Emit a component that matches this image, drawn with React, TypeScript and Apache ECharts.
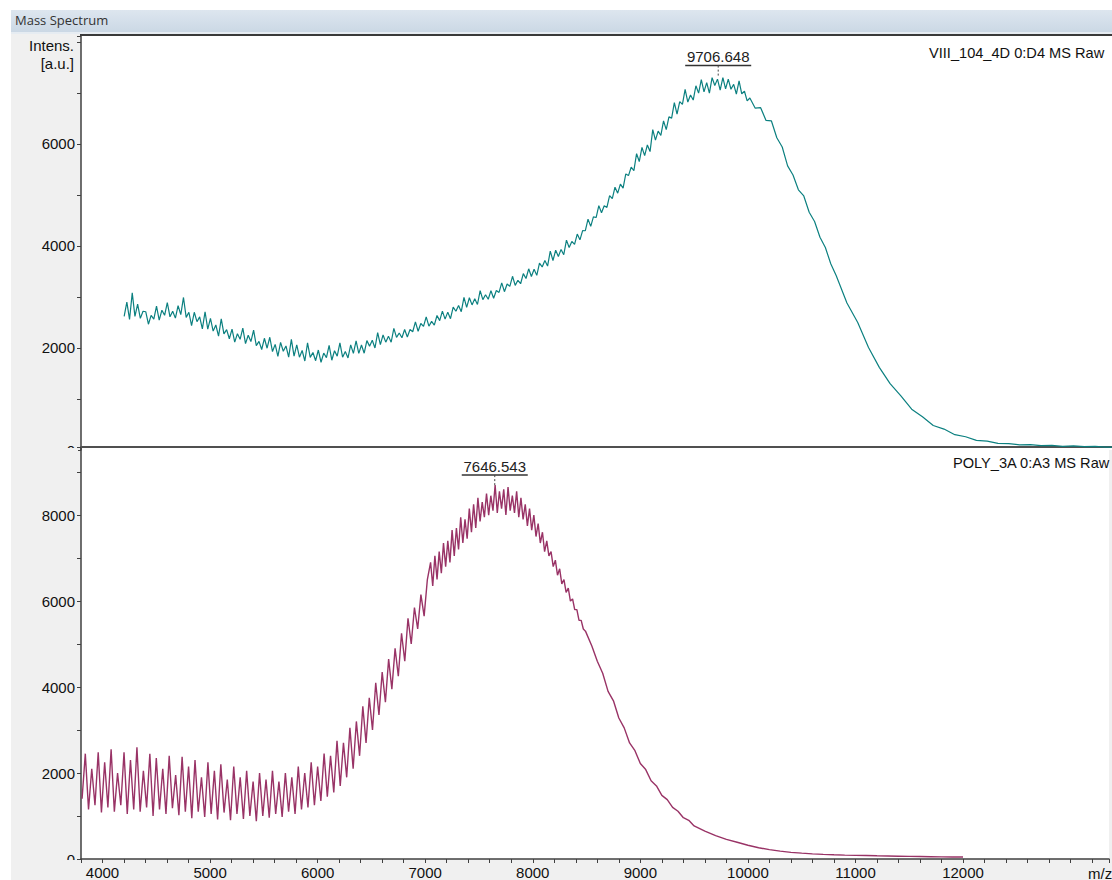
import { useEffect, useRef } from 'react';
import * as echarts from 'echarts';

// ---------- labels ----------
const WINDOW_TITLE = 'Mass Spectrum';
const Y_TITLE_1 = 'Intens.';
const Y_TITLE_2 = '[a.u.]';
const X_TITLE = 'm/z';
const TOP_NAME = 'VIII_104_4D 0:D4 MS Raw';
const BOT_NAME = 'POLY_3A 0:A3 MS Raw';
const TOP_PEAK_MZ = 9706.648;
const TOP_PEAK_TOP = 7300;
const BOT_PEAK_MZ = 7646.543;
const BOT_PEAK_TOP = 8650;

// ---------- axes ----------
const X_MIN = 3800;
const X_MAX = 13357;
const X_TICK = 200;
const X_LABEL_EVERY = 1000;
const X_LABEL_LAST = 12000;
const TOP_Y_MAX = 8115;
const BOT_Y_MAX = 9583;
const Y_TICK = 1000;
const Y_LABEL_EVERY = 2000;

// ---------- top spectrum (VIII_104_4D), intensities ----------
const TOP_A_START = 4200;
const TOP_A_STEP = 25;
const TOP_A = [
  2620, 2900, 2560, 3080, 2620, 2860, 2580, 2720,
  2710, 2465, 2640, 2565, 2820, 2545, 2740, 2640,
  2890, 2610, 2720, 2585, 2830, 2655, 2990, 2600,
  2700, 2440, 2700, 2515, 2610, 2375, 2710, 2370,
  2580, 2330, 2450, 2230, 2570, 2275, 2360, 2180,
  2370, 2115, 2280, 2170, 2390, 2085, 2250, 2125,
  2350, 2045, 2130, 1970, 2190, 1995, 2210, 1930,
  2070, 1835, 2110, 1935, 2040, 1820, 2170, 1840,
  2060, 1820, 1950, 1745, 2100, 1815, 1910, 1750,
  1960, 1720, 1900, 1810, 2050, 1760, 1945, 1840,
  2100, 1820, 1930, 1805, 2060, 1895, 2140, 1895,
  2058, 1897, 2144, 2036, 2152, 1999, 2302, 2066,
  2255, 2114, 2232, 2112, 2384, 2208, 2293, 2201,
  2363, 2215, 2361, 2318, 2511, 2328, 2479, 2422,
  2610, 2427, 2522, 2449, 2637, 2536, 2722, 2565,
  2702, 2573, 2801, 2719, 2833, 2711, 2993, 2794,
  2985, 2844, 2967, 2852, 3124, 2948, 3043, 2956,
  3123, 2975, 3126, 3088, 3276, 3103, 3254, 3207,
  3405, 3227, 3327, 3259, 3457, 3361, 3552, 3400,
  3542, 3423, 3661, 3589, 3713, 3606, 3898, 3714,
  3915, 3794, 3932, 3827, 4114, 3968, 4088, 4031,
  4233, 4120, 4301, 4298, 4526, 4383, 4569, 4557,
  4790, 4652, 4787, 4754, 4987, 4926, 5152, 5035,
  5212, 5133, 5411, 5379, 5543, 5476, 5808, 5654,
  5930, 5770, 5980, 5850, 6280, 6075, 6250, 6165,
  6450, 6280, 6530, 6505, 6810, 6585, 6830, 6775,
  7070, 6820, 6960, 6860, 7140, 6995, 7260, 7020,
  7200, 6995, 7300, 7145, 7270, 7055, 7300, 7080,
  7270, 7071, 7168, 6978, 7236, 6982, 7032, 6844,
];
const TOP_M_START = 10000;
const TOP_M_STEP = 50;
const TOP_M = [
  6900, 6700, 6710, 6460, 6450, 6120, 5940, 5570, 5390, 5100, 4980, 4660, 4480, 4170, 3970, 3650,
  3420,
];
const TOP_B_START = 10900;
const TOP_B_STEP = 100;
const TOP_B = [
  2880, 2500, 2010, 1620, 1300, 1060, 800, 650, 480, 410, 300, 260, 190, 175, 130, 125, 100, 105,
  85, 90, 70, 80, 65, 70, 55, 60,
];

// ---------- bottom spectrum (POLY_3A), intensities ----------
const BOT_A_START = 3810;
const BOT_A_STEP = 30;
const BOT_A = [
  1400, 2450, 1150, 2100, 1250, 2480, 1080, 2250, 1200, 2550, 1100, 2000, 1250, 2480, 1050, 2300,
  1150, 2600, 1100, 2050, 1200, 2450, 1000, 2350, 1150, 2100, 1050, 2400, 1180, 1950, 1020, 2380,
  1100, 2150, 950, 2300, 1100, 1900, 980, 2250, 1050, 2050, 920, 2200, 1080, 1850, 900, 2150,
  1050, 1900, 930, 2050, 1000, 1800, 880, 2000, 1000, 1850, 960, 2050, 1050, 1800, 980, 2000,
  1100, 1900, 1050, 2150, 1150, 2000, 1200, 2250, 1250, 2150, 1350, 2450, 1450, 2400, 1550, 2750,
  1700, 2700, 1900, 3050, 2100, 3200, 2400, 3550, 2700, 3750, 3000, 4100, 3350, 4350, 3650, 4650,
  3950, 4900, 4250, 5250, 4600, 5600, 5000, 5850, 5350, 6150, 5650, 6500,
];
const BOT_B_START = 7050;
const BOT_B_STEP = 20;
const BOT_B = [
  6900, 6350, 7050, 6500, 7150, 6650, 7350, 6800, 7400, 6900, 7650, 7050, 7700, 7200, 7950, 7350,
  7900, 7450, 8150, 7600, 8250, 7700, 8400, 7850, 8300, 7950, 8500, 8000, 8450, 8100, 8700, 8050,
  8550, 8150, 8600, 8000, 8650, 8100, 8450, 8050, 8550, 7950, 8400, 7900, 8250, 7750, 8150, 7650,
  8000, 7500, 7800, 7350, 7600, 7150, 7400, 7050, 7150, 6800, 6950, 6600, 6750, 6400, 6500, 6200,
  6300, 6000, 6050, 5800, 5800, 5550, 5550, 5350, 5300,
];
const BOT_C_START = 8550;
const BOT_C_STEP = 50;
const BOT_C = [
  4950, 4600, 4320, 3900, 3680, 3280, 3050, 2700, 2520, 2220, 2080, 1820, 1700, 1480, 1380, 1200,
  1110, 960, 900, 770,
];
const BOT_D_START = 9600;
const BOT_D_STEP = 100;
const BOT_D = [
  650, 545, 455, 390, 320, 262, 218, 182, 155, 136, 120, 108, 98, 90, 85, 80, 74, 70, 65, 60, 57,
  54, 50, 48, 46,
];

const TOP_COLOR = '#0c8080';
const BOT_COLOR = '#993366';
const FONT = '"Liberation Sans", Arial, sans-serif';

function seg(start: number, step: number, vals: number[]) {
  return vals.map((v, i) => [start + i * step, v]);
}

const topData = [
  ...seg(TOP_A_START, TOP_A_STEP, TOP_A),
  ...seg(TOP_M_START, TOP_M_STEP, TOP_M),
  ...seg(TOP_B_START, TOP_B_STEP, TOP_B),
];
const botData = [
  ...seg(BOT_A_START, BOT_A_STEP, BOT_A),
  ...seg(BOT_B_START, BOT_B_STEP, BOT_B),
  ...seg(BOT_C_START, BOT_C_STEP, BOT_C),
  ...seg(BOT_D_START, BOT_D_STEP, BOT_D),
];

function yAxis(gridIndex: number, max: number, hideTop: boolean) {
  return {
    gridIndex,
    type: 'value',
    min: 0,
    max,
    interval: Y_TICK,
    axisLine: { show: true, lineStyle: { color: '#404040', width: 1.5 } },
    axisTick: { show: true, inside: false, length: 4, lineStyle: { color: '#404040' } },
    axisLabel: {
      color: '#111',
      fontSize: 15,
      fontFamily: FONT,
      margin: 6,
      formatter: (v: number) =>
        v % Y_LABEL_EVERY === 0 && !(hideTop && v >= 8000) ? String(v) : '',
    },
    splitLine: { show: false },
  };
}

export default function App() {
  const ref = useRef<HTMLDivElement>(null);
  useEffect(() => {
    const chart = echarts.init(ref.current!, null, { renderer: 'svg' });
    chart.setOption({
      animation: false,
      grid: [
        { left: 81, top: 36, width: 1031, height: 414, show: true, backgroundColor: '#fff', borderWidth: 0 },
        { left: 81, top: 447, width: 1031, height: 412, show: true, backgroundColor: '#fff', borderWidth: 0 },
      ],
      xAxis: [
        {
          gridIndex: 0, type: 'value', min: X_MIN, max: X_MAX, interval: X_TICK,
          axisLine: { show: false }, axisTick: { show: false }, axisLabel: { show: false },
          splitLine: { show: false },
        },
        {
          gridIndex: 1, type: 'value', min: X_MIN, max: X_MAX, interval: X_TICK,
          axisLine: { show: true, onZero: false, lineStyle: { color: '#404040', width: 1.5 } },
          axisTick: { show: true, inside: false, length: 4, lineStyle: { color: '#404040' } },
          axisLabel: {
            color: '#111', fontSize: 15, fontFamily: FONT, margin: 6,
            formatter: (v: number) =>
              v % X_LABEL_EVERY === 0 && v <= X_LABEL_LAST ? String(v) : '',
          },
          splitLine: { show: false },
        },
      ],
      yAxis: [yAxis(0, TOP_Y_MAX, true), yAxis(1, BOT_Y_MAX, false)],
      series: [
        {
          type: 'line', xAxisIndex: 0, yAxisIndex: 0, data: topData, symbol: 'none',
          lineStyle: { color: TOP_COLOR, width: 1.2 }, z: 3,
        },
        {
          type: 'line', xAxisIndex: 1, yAxisIndex: 1, data: botData, symbol: 'none',
          lineStyle: { color: BOT_COLOR, width: 1.4 }, z: 3,
        },
      ],
    });

    const pt = chart.convertToPixel({ xAxisIndex: 0, yAxisIndex: 0 }, [TOP_PEAK_MZ, TOP_PEAK_TOP]) as number[];
    const pb = chart.convertToPixel({ xAxisIndex: 1, yAxisIndex: 1 }, [BOT_PEAK_MZ, BOT_PEAK_TOP]) as number[];

    const peakMarks = (p: number[], label: string) => {
      const lineY = p[1] - 12;
      return [
        {
          type: 'text', z: 50, x: p[0], y: lineY - 9,
          style: { text: label, fill: '#222', font: `15px ${FONT}`, align: 'center', verticalAlign: 'middle' },
        },
        {
          type: 'line', z: 50,
          shape: { x1: p[0] - 33, y1: lineY, x2: p[0] + 33, y2: lineY },
          style: { stroke: '#333', lineWidth: 1.5 },
        },
        {
          type: 'line', z: 50,
          shape: { x1: p[0], y1: lineY, x2: p[0], y2: lineY + 10 },
          style: { stroke: '#444', lineWidth: 1, lineDash: [2, 2] },
        },
      ];
    };

    chart.setOption({
      graphic: [
        {
          type: 'text', z: 50, x: 15, y: 20,
          style: { text: WINDOW_TITLE, fill: '#333', font: '13px "Open Sans", "Noto Sans", sans-serif', verticalAlign: 'middle' },
        },
        {
          type: 'text', z: 50, x: 74, y: 45,
          style: { text: Y_TITLE_1, fill: '#111', font: `15px ${FONT}`, align: 'right', verticalAlign: 'middle' },
        },
        {
          type: 'text', z: 50, x: 74, y: 63,
          style: { text: Y_TITLE_2, fill: '#111', font: `15px ${FONT}`, align: 'right', verticalAlign: 'middle' },
        },
        {
          type: 'text', z: 50, x: 1088, y: 873,
          style: { text: X_TITLE, fill: '#111', font: `15px ${FONT}`, verticalAlign: 'middle' },
        },
        {
          type: 'text', z: 50, x: 929, y: 53,
          style: { text: TOP_NAME, fill: '#111', font: `14.6px ${FONT}`, verticalAlign: 'middle' },
        },
        {
          type: 'text', z: 50, x: 953, y: 463,
          style: { text: BOT_NAME, fill: '#111', font: `14.6px ${FONT}`, verticalAlign: 'middle' },
        },
        {
          type: 'line', z: 1,
          shape: { x1: 81, y1: 447, x2: 1112, y2: 447 },
          style: { stroke: '#505050', lineWidth: 2 },
        },
        { type: 'rect', z: 60, shape: { x: 11, y: 448, width: 67, height: 10 }, style: { fill: '#f0f0f0' } },
        { type: 'rect', z: 60, shape: { x: 11, y: 860, width: 67, height: 8 }, style: { fill: '#f0f0f0' } },
        ...peakMarks(pt, TOP_PEAK_MZ.toFixed(3)),
        ...peakMarks(pb, BOT_PEAK_MZ.toFixed(3)),
      ],
    });
    return () => chart.dispose();
  }, []);

  return (
    <div style={{ position: 'absolute', left: 0, top: 0, width: 1112, height: 880, background: '#fff', overflow: 'hidden' }}>
      <div style={{ position: 'absolute', left: 11, top: 10, width: 1101, height: 870, background: '#f0f0f0' }} />
      <div style={{ position: 'absolute', left: 11, top: 10, width: 1101, height: 22, background: 'linear-gradient(#dde6ef, #cbd8e5)' }} />
      <div style={{ position: 'absolute', left: 11, top: 32, width: 1101, height: 2, background: '#e6ecf2' }} />
      <div style={{ position: 'absolute', left: 80, top: 34, width: 1032, height: 2, background: '#3a3a3a' }} />
      <div ref={ref} style={{ position: 'absolute', left: 0, top: 0, width: 1112, height: 880 }} />
    </div>
  );
}
